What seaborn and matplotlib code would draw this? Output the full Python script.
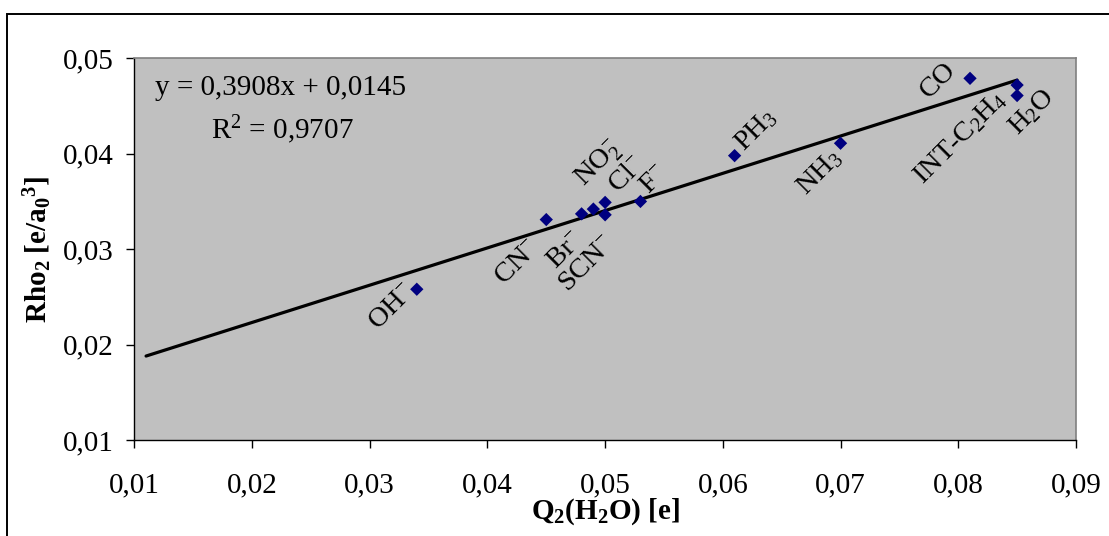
import matplotlib
matplotlib.use('Agg')
import matplotlib.pyplot as plt
import seaborn as sns
import pandas as pd
import numpy as np

# data
names = ['OH$^{-}$', 'CN$^{-}$', 'Br$^{-}$', 'Cl$^{-}$', 'NO$_2^{-}$', 'SCN$^{-}$',
         'F$^{-}$', 'PH$_3$', 'NH$_3$', 'CO', 'H$_2$O', 'INT-C$_2$H$_4$']
q2 = [0.034, 0.045, 0.048, 0.049, 0.050, 0.050, 0.053, 0.061, 0.070, 0.081, 0.085, 0.085]
rho2 = [0.0258, 0.0331, 0.0337, 0.0342, 0.0349, 0.0336, 0.0350, 0.0398, 0.0411, 0.0479, 0.0472, 0.0461]

slope = 0.3908
intercept = 0.0145
r2 = 0.9707
fit_x_start = 0.011

x_ticks = [0.01, 0.02, 0.03, 0.04, 0.05, 0.06, 0.07, 0.08, 0.09]
y_ticks = [0.01, 0.02, 0.03, 0.04, 0.05]

# label offsets (pixels) from each point, rotated labels
label_offsets = [(-25, -18), (-29, -43), (-16, -37), (34, 34), (-6, 38), (-18, -49),
                 (14, 21), (21, 26), (-21, -29), (-32, -2), (14, -27), (-57, -42)]

df = pd.DataFrame({'q2': q2, 'rho2': rho2, 'name': names})

sns.set_theme(style='white')
plt.rcParams['font.family'] = ['Liberation Serif', 'DejaVu Serif']
plt.rcParams['mathtext.fontset'] = 'custom'
plt.rcParams['mathtext.rm'] = 'Liberation Serif'
plt.rcParams['mathtext.it'] = 'Liberation Serif:italic'
plt.rcParams['mathtext.bf'] = 'Liberation Serif:bold'
for key in ['text.color', 'axes.labelcolor', 'xtick.color', 'ytick.color']:
    plt.rcParams[key] = 'black'

fig = plt.figure(figsize=(11.09, 5.36), dpi=100)
ax = fig.add_axes([0.1211, 0.1791, 0.8491, 0.7121])
ax.set_facecolor('#C0C0C0')

# trend line
line_x = np.array([fit_x_start, max(q2)])
ax.plot(line_x, slope * line_x + intercept, color='black', lw=2.3, zorder=2)

sns.scatterplot(data=df, x='q2', y='rho2', marker='D', s=46, color='#000080',
                edgecolor='none', ax=ax, zorder=3)

for px, py, nm, (dx, dy) in zip(q2, rho2, names, label_offsets):
    ax.annotate(nm, xy=(px, py), xytext=(dx, dy), textcoords='offset pixels',
                rotation=45, ha='center', va='center', fontsize=20.5, zorder=4)

ax.text(0.155, 0.922, 'y = ' + f'{slope:.4f}'.replace('.', ',') + 'x + ' +
        f'{intercept:.4f}'.replace('.', ','), transform=ax.transAxes,
        ha='center', va='center', fontsize=21)
ax.text(0.157, 0.812, 'R$^{2}$ = ' + f'{r2:.4f}'.replace('.', ','), transform=ax.transAxes,
        ha='center', va='center', fontsize=21)

ax.set_xlim(x_ticks[0], x_ticks[-1])
ax.set_ylim(y_ticks[0], y_ticks[-1])
ax.set_xticks(x_ticks)
ax.set_yticks(y_ticks)
ax.set_xticklabels([f'{v:.2f}'.replace('.', ',') for v in x_ticks])
ax.set_yticklabels([f'{v:.2f}'.replace('.', ',') for v in y_ticks])
ax.tick_params(axis='both', which='major', direction='out', length=6, width=1,
               color='black', labelcolor='black', labelsize=21, bottom=True, left=True)
ax.tick_params(axis='x', pad=17)
ax.tick_params(axis='y', pad=9)

ax.set_xlabel('$\\mathbf{Q_2(H_2O)\\ [e]}$', fontsize=21, labelpad=-1)
ax.set_ylabel('$\\mathbf{Rho_2\\ [e/a_0{}^3]}$', fontsize=21, labelpad=6)

for side in ['left', 'bottom']:
    ax.spines[side].set_color('black')
    ax.spines[side].set_linewidth(1)
for side in ['top', 'right']:
    ax.spines[side].set_color('#808080')
    ax.spines[side].set_linewidth(1.2)

# outer chart frame (cut off at right and bottom)
frame = plt.Rectangle((7 / 1109, -0.1), 1.2, 1 - 14 / 536 + 0.1, transform=fig.transFigure,
                      fill=False, ec='black', lw=1.4, clip_on=False)
fig.add_artist(frame)

fig.savefig('out.png', dpi=100)
